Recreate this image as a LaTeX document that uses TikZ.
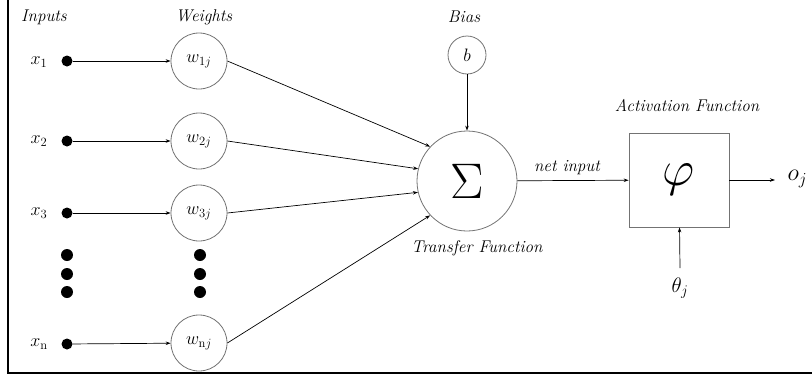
\RequirePackage{fix-cm}
\documentclass[tikz,border=0pt]{standalone}
\usetikzlibrary{arrows.meta}
\begin{document}
\begin{tikzpicture}[x=1pt,y=-1pt,
  wcirc/.style={circle,draw=black!55,line width=0.8pt,minimum size=56pt,inner sep=0pt,font=\fontsize{18}{20}\selectfont},
  indot/.style={circle,fill=black,minimum size=11pt,inner sep=0pt},
  vdot/.style={circle,fill=black,minimum size=12pt,inner sep=0pt},
  lbl/.style={font=\fontsize{17}{20}\selectfont\itshape},
  xlbl/.style={font=\fontsize{18}{20}\selectfont},
  conn/.style={line width=0.7pt,-{Stealth[length=5pt,width=3.5pt]}}]
\useasboundingbox (0,0) rectangle (812,378);
% frame on the left and bottom edges
\draw[line width=1.2pt] (8,0) -- (8,373) -- (812,373);

% column titles
\node[lbl] (tin) at (44,17) {Inputs};
\node[lbl] (tw) at (204,17) {Weights};
\node[lbl] (tb) at (464,17) {Bias};
\node[lbl] (ta) at (687,106) {Activation Function};
\node[lbl] (tt) at (477,248) {Transfer Function};
\node[lbl] (tn) at (567,168) {net input};

% inputs
\node[xlbl] (x1) at (39,62) {$x_1$};
\node[xlbl] (x2) at (39,141) {$x_2$};
\node[xlbl] (x3) at (39,213) {$x_3$};
\node[xlbl] (xn) at (39,344) {$x_{\mathrm{n}}$};
\node[indot] (d1) at (67,61) {};
\node[indot] (d2) at (67,141) {};
\node[indot] (d3) at (67,213) {};
\node[indot] (dn) at (67,344) {};

% weights
\node[wcirc] (w1) at (199,61) {$w_{1j}$};
\node[wcirc] (w2) at (199,141) {$w_{2j}$};
\node[wcirc] (w3) at (199,213) {$w_{3j}$};
\node[wcirc] (wn) at (199,343) {$w_{\mathrm{n}j}$};

% ellipsis dots
\foreach \yy [count=\i] in {255,274,292} {
  \node[vdot] (ia\i) at (67,\yy) {};
  \node[vdot] (wa\i) at (200,\yy) {};
}

% bias, summation and activation
\node[wcirc,minimum size=38pt] (b) at (467,55) {$b$};
\node[circle,draw=black!55,line width=0.8pt,minimum size=100pt,inner sep=0pt,font=\fontsize{50}{54}\selectfont] (sig) at (467,181) {$\Sigma$};
\node[draw=black!55,line width=0.8pt,minimum width=100pt,minimum height=94pt,inner sep=0pt,font=\fontsize{50}{54}\selectfont] (phi) at (679,180) {$\varphi$};
\node[font=\fontsize{24}{26}\selectfont,anchor=west] (o) at (784,179) {$o_j$};
\node[font=\fontsize{21}{23}\selectfont] (th) at (680,288) {$\theta_j$};
\coordinate (thb) at (680,268);
\coordinate (oa) at (775,180);

% connectors
\foreach \i in {1,2,3,n} \draw[conn] (d\i) -- (w\i);
\draw[conn] (w1.east) -- (sig.137);
\draw[conn] (w2.east) -- (sig.166);
\draw[conn] (w3.east) -- (sig.193);
\draw[conn] (wn.east) -- (sig.223);
\draw[conn] (b) -- (sig);
\draw[conn] (sig) -- (phi);
\draw[conn] (phi) -- (oa);
\draw[conn] (thb) -- (phi);
\end{tikzpicture}
\end{document}
